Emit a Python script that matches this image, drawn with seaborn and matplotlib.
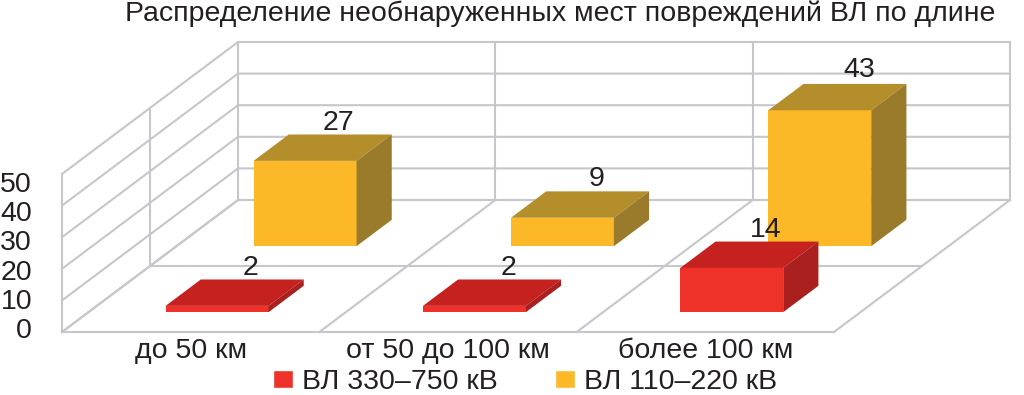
import matplotlib
matplotlib.use("Agg")
import matplotlib.pyplot as plt
from matplotlib.patches import Patch, Polygon
import pandas as pd
import seaborn as sns

categories = ["до 50 км", "от 50 до 100 км", "более 100 км"]
values_330_750 = [2, 2, 14]
values_110_220 = [27, 9, 43]
y_ticks = [0, 10, 20, 30, 40, 50]
title = "Распределение необнаруженных мест повреждений ВЛ по длине"
label_330_750 = "ВЛ 330–750 кВ"
label_110_220 = "ВЛ 110–220 кВ"

W, H = 1024, 395
FONT = 20.5
TEXT = "#231f20"
GRID = "#c6c6cb"
# oblique depth of the chart box, in data units (x: categories, y: value)
DEPTH_X = 176 / 257.3
DEPTH_Y = 132 / 3.16


def _rect(left, top, right, bottom):
	return [left / W, 1 - bottom / H, (right - left) / W, (bottom - top) / H]


def _grid_line(ax, xs, ys):
	ax.plot(xs, ys, color=GRID, lw=1.5, zorder=0.5, clip_on=False, solid_capstyle="projecting")


def draw_box(ax):
	x0, x1 = -0.5, 2.5
	top = y_ticks[-1]
	for tick in y_ticks:
		_grid_line(ax, [x0, x0 + DEPTH_X, x1 + DEPTH_X], [tick, tick + DEPTH_Y, tick + DEPTH_Y])
	for d in [0.5, 1.0]:
		_grid_line(ax, [x0 + d * DEPTH_X] * 2, [d * DEPTH_Y, top + d * DEPTH_Y])
	_grid_line(ax, [x0, x0], [0, top])
	_grid_line(ax, [x0 + 0.5 * DEPTH_X, x1 + 0.5 * DEPTH_X], [0.5 * DEPTH_Y] * 2)
	_grid_line(ax, [x0, x1], [0, 0])
	for i in range(len(categories) + 1):
		_grid_line(ax, [x0 + i, x0 + i + DEPTH_X], [0, DEPTH_Y])
		if i > 0:
			_grid_line(ax, [x0 + i + DEPTH_X] * 2, [DEPTH_Y, top + DEPTH_Y])


def draw_series(ax, df, col, row, front, top_color, side_color, zorder):
	sns.barplot(data=df, x="length", y=col, color=front, saturation=1, width=0.4, ax=ax, zorder=zorder)
	d0, d1 = row
	for bar, value in zip(ax.containers[-1], df[col]):
		left = bar.get_x() + d0 * DEPTH_X
		right = left + bar.get_width()
		base = d0 * DEPTH_Y
		bar.set_x(left)
		bar.set_y(base)
		bar.set_clip_on(False)
		bar.set_linewidth(0)
		dx = (d1 - d0) * DEPTH_X
		dy = (d1 - d0) * DEPTH_Y
		top = base + value
		ax.add_patch(Polygon([(left, top), (right, top), (right + dx, top + dy), (left + dx, top + dy)],
			facecolor=top_color, lw=0, zorder=zorder, clip_on=False))
		ax.add_patch(Polygon([(right, base), (right + dx, base + dy), (right + dx, top + dy), (right, top)],
			facecolor=side_color, lw=0, zorder=zorder, clip_on=False))
		# the 43 label sits a little off the bar in the source
		nudge = (3, 5) if value == 43 else (-1, 3.5)
		ax.annotate(str(value), ((left + right) / 2 + dx, top + dy), xytext=nudge, textcoords="offset points",
			ha="center", va="baseline", fontsize=FONT, color=TEXT, zorder=10, annotation_clip=False)


sns.set_theme(style="white")
plt.rcParams["font.family"] = ["Liberation Sans", "DejaVu Sans"]

df = pd.DataFrame({"length": categories, "low": values_110_220, "high": values_330_750})

fig = plt.figure(figsize=(W / 100, H / 100), dpi=100, facecolor="white")
ax = fig.add_axes(_rect(62, 174, 834, 332))
ax.patch.set_alpha(0)

draw_series(ax, df, "low", (0.65, 0.85), "#fdb827", "#b58e2c", "#9a7b2b", 3)
draw_series(ax, df, "high", (0.15, 0.35), "#ee3229", "#c5211f", "#a9201e", 4)
draw_box(ax)

ax.set_xlim(-0.5, 2.5)
ax.set_ylim(0, 50)
ax.set_xlabel("")
ax.set_ylabel("")
ax.set_yticks([])
ax.tick_params(axis="x", length=0, pad=4, labelsize=FONT, labelcolor=TEXT)
sns.despine(ax=ax, left=True, bottom=True)

# tick labels sit on a slightly tighter scale than the box in the source
lab_ax = fig.add_axes(_rect(62, 182, 834, 328))
lab_ax.patch.set_alpha(0)
lab_ax.set_ylim(0, 50)
lab_ax.set_xticks([])
lab_ax.set_yticks(y_ticks)
lab_ax.tick_params(axis="y", length=0, pad=21.5, labelsize=FONT, labelcolor=TEXT)
sns.despine(ax=lab_ax, left=True, bottom=True)

fig.text(560 / W, 1 - 21 / H, title, ha="center", va="baseline", fontsize=FONT, color=TEXT)

handles = [Patch(facecolor="#ee3229", label=label_330_750), Patch(facecolor="#fdb827", label=label_110_220)]
fig.legend(handles=handles, loc="center", bbox_to_anchor=(525 / W, 1 - 382 / H), ncols=2, frameon=False,
	fontsize=FONT, handlelength=0.7, handleheight=0.63, handletextpad=0.32, columnspacing=2.0,
	labelcolor=TEXT, borderpad=0, borderaxespad=0)

fig.savefig("out.png", dpi=100)
